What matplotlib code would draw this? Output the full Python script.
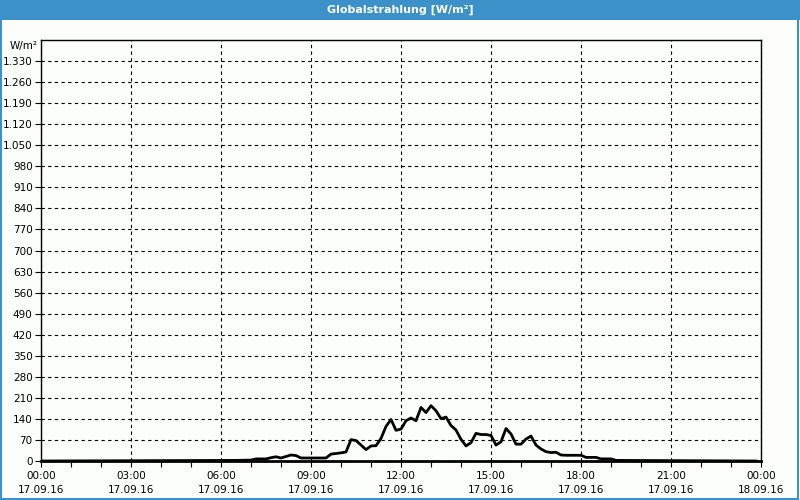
import matplotlib
matplotlib.use('Agg')
import matplotlib.pyplot as plt
import matplotlib.ticker as mticker
from matplotlib.patches import Rectangle

# Globalstrahlung 17.09.16 (time as HH:MM, value in W/m²)
times = ['00:00', '06:30', '07:00', '07:10', '07:30', '07:40', '07:50', '08:00',
         '08:20', '08:30', '08:40', '09:30', '09:40', '10:00', '10:10', '10:20',
         '10:30', '10:50', '11:00', '11:10', '11:20', '11:30', '11:40', '11:50',
         '12:00', '12:10', '12:20', '12:30', '12:40', '12:50', '13:00', '13:10',
         '13:20', '13:30', '13:40', '13:50', '14:00', '14:10', '14:20', '14:30',
         '14:40', '14:50', '15:00', '15:10', '15:20', '15:30', '15:40', '15:50',
         '16:00', '16:10', '16:20', '16:30', '16:40', '16:50', '17:00', '17:10',
         '17:20', '17:30', '17:40', '18:00', '18:10', '18:30', '18:40', '19:00',
         '19:10', '23:50']
values = [0, 2, 3, 7, 7, 11, 14, 10,
          20, 18, 10, 10, 23, 27, 30, 71,
          68, 38, 50, 51, 75, 115, 138, 102,
          106, 134, 143, 134, 178, 161, 184, 167,
          141, 146, 118, 103, 72, 50, 61, 92,
          88, 88, 85, 53, 64, 108, 90, 56,
          56, 73, 83, 53, 40, 31, 28, 29,
          20, 19, 19, 19, 12, 12, 7, 7,
          2, 0]

x_labels = ['00:00\n17.09.16', '03:00\n17.09.16', '06:00\n17.09.16',
            '09:00\n17.09.16', '12:00\n17.09.16', '15:00\n17.09.16',
            '18:00\n17.09.16', '21:00\n17.09.16', '00:00\n18.09.16']

hours = [int(t[:2]) + int(t[3:]) / 60 for t in times]

blue = '#3c91c8'
bg = '#fcfefc'

fig = plt.figure(figsize=(8, 5), dpi=100, facecolor=bg)

# title bar and frame
fig.patches.append(Rectangle((0, 0.96), 1, 0.04, transform=fig.transFigure,
                             facecolor=blue, edgecolor='none'))
fig.patches.append(Rectangle((0.001, 0.002), 0.997, 0.996, transform=fig.transFigure,
                             facecolor='none', edgecolor=blue, linewidth=1.5))
fig.text(0.5, 0.981, 'Globalstrahlung [W/m²]', color='white', fontsize=8,
         fontweight='bold', ha='center', va='center')

ax = fig.add_axes([41 / 800, 1 - 461 / 500, 720 / 800, 421 / 500])
ax.set_facecolor(bg)
ax.plot(hours, values, color='black', linewidth=2, solid_joinstyle='round')

ax.set_xlim(0, 24)
ax.set_ylim(0, 1400)
ax.set_xticks(range(0, 25, 3))
ax.set_xticklabels(x_labels, fontsize=7.5, linespacing=1.55)
ax.xaxis.set_minor_locator(mticker.MultipleLocator(1))
ax.set_yticks(range(0, 1331, 70))
ax.yaxis.set_major_formatter(mticker.FuncFormatter(
    lambda v, p: f'{int(v):,}'.replace(',', '.')))
ax.tick_params(axis='y', labelsize=7.5, length=4, width=0.8, pad=2)
ax.tick_params(axis='x', which='major', length=4, width=0.8, pad=3)
ax.tick_params(axis='x', which='minor', length=4, width=0.8)

ax.grid(True, which='major', color='black', linestyle=(0, (3, 3)), linewidth=0.8)
for s in ax.spines.values():
    s.set_linewidth(1)
ax.spines['bottom'].set_linewidth(2)

fig.text(24 / 800, 1 - 46 / 500, 'W/m²', fontsize=7.5, ha='center', va='center')

fig.savefig('out.png', dpi=100, facecolor=bg)
